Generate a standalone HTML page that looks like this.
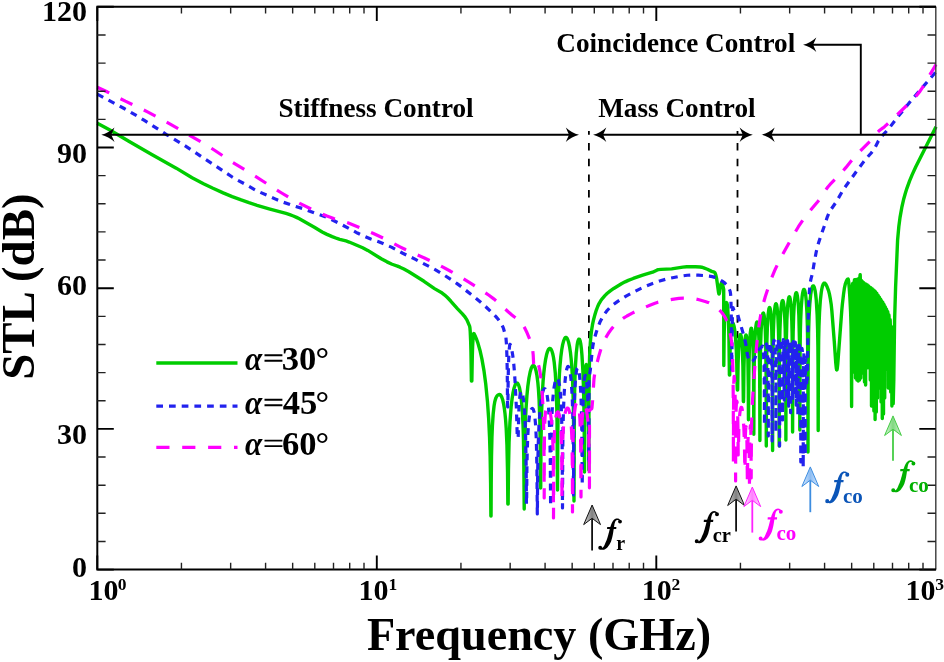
<!DOCTYPE html><html><head><meta charset="utf-8"><style>html,body{margin:0;padding:0;background:#fff;}svg{display:block;will-change:transform;}</style></head><body><svg width="944" height="662" viewBox="0 0 944 662">
<rect width="944" height="662" fill="#fff"/>
<defs><linearGradient id="gk" x1="0" y1="0" x2="1" y2="0"><stop offset="0" stop-color="#d4d4d4"/><stop offset="0.5" stop-color="#808080"/><stop offset="1" stop-color="#d4d4d4"/></linearGradient><linearGradient id="gm" x1="0" y1="0" x2="1" y2="0"><stop offset="0" stop-color="#ffdcff"/><stop offset="0.5" stop-color="#ff80ff"/><stop offset="1" stop-color="#ffdcff"/></linearGradient><linearGradient id="gb" x1="0" y1="0" x2="1" y2="0"><stop offset="0" stop-color="#d6e9ff"/><stop offset="0.5" stop-color="#8cbcf2"/><stop offset="1" stop-color="#d6e9ff"/></linearGradient><linearGradient id="gg" x1="0" y1="0" x2="1" y2="0"><stop offset="0" stop-color="#d8f5d8"/><stop offset="0.5" stop-color="#80d880"/><stop offset="1" stop-color="#d8f5d8"/></linearGradient></defs>
<path d="M588.9 130.9V452M737.5 130.9V372" stroke="#000" stroke-width="1.8" stroke-dasharray="7.4 8.25" stroke-dashoffset="3.45" fill="none"/>
<path d="M97.30 123.20L109.90 130.07 128.80 141.29 151.75 154.56 176.20 168.16 192.10 177.78 203.50 183.77 212.95 188.30 223.15 192.86 232.15 196.57 241.15 199.96 248.95 202.66 257.05 205.26 269.05 208.78 286.00 213.46 289.75 214.68 293.35 216.03 296.50 217.38 298.90 218.60 314.35 227.23 322.15 231.98 326.95 234.37 332.20 236.62 337.00 238.47 339.70 239.31 346.00 240.96 349.15 242.02 362.65 247.76 367.75 250.40 381.25 258.72 386.95 261.86 392.05 264.26 397.45 266.09 400.00 267.15 403.90 269.08 408.85 271.79 424.00 281.30 434.50 288.63 442.15 293.09 444.70 295.02 447.40 297.51 450.70 301.01 457.60 308.82 462.40 313.82 464.50 316.31 466.90 319.91 469.60 326.18 469.90 327.72 470.20 331.13 470.65 340.80 470.95 352.02 471.40 381.00 471.85 381.00 472.30 356.52 472.60 346.66 473.05 338.15 473.35 335.11 473.65 333.66 473.80 333.47 473.95 333.61 475.45 336.59 476.65 339.49 477.85 342.90 479.95 350.23 481.90 358.86 484.00 370.90 485.80 384.57 487.45 401.32 488.65 418.28 489.55 437.10 490.15 456.68 490.60 482.88 490.90 516.00 491.05 516.00 491.20 484.93 491.50 456.17 491.95 436.87 492.40 425.81 493.15 414.29 494.05 406.02 494.65 402.45 495.25 399.88 496.00 397.67 496.75 396.25 497.35 395.52 497.95 395.04 498.70 394.69 499.60 394.50 500.20 394.72 500.65 395.11 501.55 396.56 502.60 399.47 503.50 403.28 504.25 407.67 505.00 413.59 505.60 419.92 506.20 428.48 506.95 445.21 507.55 472.30 507.85 504.00 508.15 504.00 508.45 470.21 509.05 442.38 509.95 422.07 511.15 406.64 512.05 398.93 512.95 393.20 514.00 388.36 515.20 384.80 515.80 383.74 516.40 383.13 516.85 382.99 517.45 383.21 518.05 383.91 518.50 384.78 519.55 388.08 520.75 394.65 521.65 402.54 522.40 412.52 523.00 424.79 523.45 439.48 523.75 455.75 524.20 509.00 524.65 455.24 524.95 438.36 525.40 422.75 526.00 409.23 526.90 395.79 527.80 386.48 529.00 377.71 530.20 371.72 531.40 367.86 532.00 366.63 532.60 365.86 533.20 365.55 533.80 365.69 534.40 366.30 535.00 367.42 536.05 370.81 536.95 375.51 537.85 382.63 538.45 389.43 539.05 399.03 539.80 419.45 540.25 445.82 540.60 488.00 540.70 487.12 541.00 441.68 541.45 416.77 542.20 395.73 543.10 380.95 543.85 372.44 544.60 365.94 545.50 359.96 546.55 354.86 547.60 351.34 548.20 349.97 548.80 349.01 549.40 348.48 550.00 348.38 550.60 348.71 551.05 349.24 551.95 351.12 552.70 353.65 553.45 357.23 554.20 362.21 555.25 372.74 556.15 388.09 556.75 406.58 557.05 422.95 557.50 490.00 557.80 434.88 558.10 412.18 558.70 389.45 559.45 373.63 560.05 365.05 560.80 357.05 561.70 350.02 562.60 344.92 563.65 340.80 564.70 338.34 565.30 337.61 565.90 337.35 566.50 337.57 566.95 338.06 567.85 339.88 568.75 342.85 569.65 347.20 570.40 352.17 571.15 358.84 571.75 365.96 572.65 382.01 573.25 400.95 573.70 430.74 574.00 501.00 574.30 416.09 574.60 393.68 574.90 380.73 575.50 364.91 576.25 353.28 577.15 345.08 577.60 342.49 578.20 340.24 578.80 339.20 579.10 339.10 579.55 339.45 580.15 340.91 580.75 343.83 581.35 348.47 581.95 355.09 582.85 370.15 583.45 386.19 583.90 405.76 584.20 429.37 584.50 472.00 584.65 424.75 584.80 403.15 585.10 383.20 585.40 373.40 585.85 366.51 586.15 364.82 586.30 364.57 586.45 364.65 586.75 365.73 587.05 368.37 587.50 375.61 587.80 383.20 588.25 401.92 588.55 427.42 588.80 470.00 589.00 401.51 589.30 369.33 589.60 356.00 590.35 342.33 590.95 335.43 591.55 330.45 592.45 324.92 593.50 319.94 594.85 314.87 596.35 310.09 597.70 306.50 599.05 303.59 600.55 301.05 602.35 298.59 604.90 295.63 607.30 293.29 610.30 290.86 613.75 288.47 621.85 283.57 625.15 281.85 628.30 280.42 633.25 278.47 641.95 275.30 645.10 274.29 652.60 272.17 656.80 270.17 658.30 269.64 661.00 269.36 671.65 268.86 682.75 267.17 686.80 266.76 695.50 266.81 700.15 267.01 701.65 267.23 703.75 267.85 707.35 269.22 711.70 271.37 714.25 272.23 714.70 272.50 715.00 272.87 715.75 274.95 716.65 278.74 718.45 291.80 718.90 293.91 719.05 293.98 719.20 293.76 719.50 292.70 721.00 283.92 721.15 283.53 721.45 283.50 722.05 283.64 722.50 284.00 723.70 289.47 723.80 365.50 724.15 335.40 724.60 318.32 725.05 311.49 725.80 305.15 726.25 303.07 726.55 302.58 726.85 302.81 727.30 304.62 727.75 308.66 728.50 322.74 728.95 339.23 729.40 375.00 729.70 375.00 730.15 348.39 730.45 339.90 730.90 332.18 731.35 327.61 731.95 324.34 732.25 323.53 732.55 323.16 732.85 323.14 733.30 323.72 734.05 326.15 734.65 329.65 735.25 334.85 735.85 342.42 736.30 350.58 736.75 362.90 737.20 387.04 737.35 390.00 737.65 390.00 738.10 362.99 738.70 346.95 739.15 340.72 739.60 337.00 740.05 335.06 740.35 334.58 740.65 334.70 740.95 335.42 741.25 336.79 741.70 340.29 742.45 351.75 742.90 365.47 743.35 401.22 743.50 401.60 743.65 396.50 743.95 368.20 744.40 351.22 744.70 344.85 745.15 338.89 745.60 335.83 745.90 335.05 746.05 335.01 746.20 335.21 746.65 337.20 747.10 341.49 747.55 349.25 747.85 357.90 748.30 387.24 748.45 419.80 748.90 369.80 749.35 350.16 749.80 339.76 750.25 333.42 750.85 329.01 751.15 328.21 751.30 328.13 751.45 328.27 751.75 329.18 752.05 331.06 752.50 336.08 752.95 345.16 753.25 355.54 753.55 375.40 753.80 434.30 754.00 384.37 754.30 360.43 754.60 348.33 755.05 337.32 755.80 327.24 756.10 324.90 756.55 322.71 757.00 321.94 757.30 322.21 757.75 323.82 758.05 325.84 758.65 332.94 759.10 342.80 759.40 354.13 759.70 377.29 759.90 440.60 760.15 372.04 760.60 344.95 761.05 332.20 761.80 320.48 762.55 314.70 763.00 313.20 763.30 312.94 763.45 313.04 763.90 314.24 764.20 315.88 764.80 321.66 765.25 329.30 765.70 342.69 766.15 378.07 766.30 446.00 766.45 377.40 766.90 341.27 767.35 327.14 768.10 314.91 768.85 309.13 769.30 307.69 769.60 307.48 769.75 307.60 770.20 308.86 770.50 310.54 771.25 318.61 771.70 327.78 772.15 344.90 772.45 373.16 772.60 450.60 772.75 374.19 773.05 345.57 773.35 332.44 773.80 320.82 774.40 311.76 775.15 305.75 775.60 304.08 775.90 303.66 776.20 303.77 776.65 304.97 777.10 307.55 777.85 316.03 778.45 329.81 778.75 342.63 779.05 370.94 779.20 446.00 779.35 371.20 779.65 342.61 779.95 329.51 780.40 317.91 781.00 308.86 781.60 303.66 782.05 301.50 782.35 300.74 782.65 300.50 782.95 300.78 783.25 301.60 783.70 303.92 784.15 307.84 784.60 313.98 785.20 328.62 785.65 354.80 785.80 378.54 785.90 440.00 785.95 396.51 786.25 345.75 786.85 320.15 787.45 308.52 788.05 301.89 788.50 298.92 788.80 297.68 789.10 296.99 789.40 296.82 789.70 297.17 790.15 298.72 790.60 301.67 791.05 306.43 791.80 321.49 792.10 333.17 792.40 356.66 792.60 432.00 792.85 352.46 793.15 331.93 793.60 316.66 794.05 307.64 794.50 301.62 794.95 297.51 795.55 294.15 795.85 293.24 796.15 292.78 796.45 292.78 796.75 293.24 797.35 295.62 797.95 300.38 798.40 306.19 798.85 315.20 799.45 340.31 799.75 390.79 799.80 430.00 800.05 352.15 800.35 331.63 800.65 320.43 801.25 307.15 802.15 296.47 802.60 293.31 803.20 290.63 803.65 289.62 803.95 289.38 804.25 289.49 804.85 290.77 805.30 292.76 805.75 295.81 806.20 300.23 806.95 312.57 807.40 326.49 807.85 362.22 808.00 452.00 808.15 367.78 808.60 331.61 809.05 317.16 809.80 303.72 810.70 294.55 811.30 290.68 811.90 288.08 812.65 286.27 813.10 285.88 813.55 286.00 814.00 286.64 814.30 287.37 815.05 290.36 815.65 294.23 816.25 299.92 817.15 314.70 817.60 328.87 817.90 346.74 818.05 364.74 818.20 430.50 818.35 368.90 818.65 340.25 818.95 326.97 819.55 311.85 820.30 300.89 821.20 292.72 821.80 289.04 822.40 286.37 823.15 284.21 823.90 283.20 824.35 283.10 824.80 283.21 825.25 283.55 825.85 284.34 827.20 287.06 828.55 290.59 829.45 294.19 830.35 298.93 831.25 304.87 831.85 310.75 834.25 341.11 835.75 362.72 836.35 368.49 836.65 369.82 836.80 370.00 836.95 369.82 837.25 368.51 837.70 364.56 841.75 310.82 842.35 304.37 843.55 294.12 844.45 287.82 845.35 283.86 846.40 281.07 847.15 279.64 847.60 279.15 848.05 279.01 848.35 279.75 848.65 281.65 849.10 286.23 849.85 297.19 850.60 311.73 851.05 326.04 851.35 345.55 851.60 406.60 851.80 317.46 852.10 294.66 852.40 285.69 852.55 283.86 852.70 283.53 852.85 284.73 853.15 292.98 853.30 301.94 853.60 372.00 853.90 299.77 854.35 281.27 854.50 279.73 854.65 279.83 854.95 285.38 855.25 302.81 855.40 326.02 855.50 378.00 855.70 300.78 856.00 281.82 856.15 279.33 856.30 279.90 856.60 291.72 856.75 308.37 856.90 380.00 857.05 306.69 857.35 283.00 857.50 280.09 857.65 280.72 857.95 294.73 858.10 317.23 858.20 381.00 858.40 299.49 858.70 280.43 858.85 278.17 859.00 279.37 859.30 296.48 859.50 380.00 859.60 312.77 859.75 289.83 859.90 279.86 860.05 275.34 860.20 274.69 860.50 285.91 860.65 302.98 860.80 378.00 860.95 302.90 861.25 281.80 861.40 280.46 861.55 282.98 861.85 306.30 862.00 372.00 862.15 306.53 862.45 283.74 862.60 281.76 862.75 283.90 863.05 307.07 863.20 373.00 863.35 309.26 863.50 293.06 863.80 282.75 863.95 283.43 864.10 287.84 864.40 320.24 864.50 382.00 864.70 299.21 864.85 287.79 865.00 283.65 865.15 284.57 865.45 306.59 865.60 385.00 865.75 308.93 866.05 286.17 866.20 284.22 866.35 286.38 866.65 309.56 866.80 368.00 866.95 309.77 867.25 287.02 867.40 285.06 867.55 287.23 867.70 294.31 867.85 310.42 868.00 367.00 868.15 310.64 868.30 294.75 868.45 287.89 868.60 285.94 868.75 288.11 869.05 311.29 869.20 368.00 869.35 309.36 869.50 293.87 869.65 287.76 869.80 287.05 870.10 303.02 870.30 380.00 870.40 322.43 870.55 300.25 870.70 291.17 870.85 287.75 871.00 288.54 871.30 305.92 871.45 341.02 871.50 406.00 871.60 323.30 871.75 301.12 871.90 292.05 872.05 288.64 872.20 289.43 872.50 306.83 872.70 395.00 872.80 324.22 873.10 293.00 873.25 289.60 873.40 290.41 873.70 307.83 873.85 342.96 873.90 411.00 874.00 325.25 874.30 294.06 874.45 290.68 874.60 291.50 874.90 308.96 875.05 344.11 875.10 419.60 875.20 326.43 875.35 304.31 875.65 291.94 875.80 292.80 875.95 298.11 876.10 310.33 876.25 345.52 876.30 412.00 876.40 327.88 876.55 305.79 876.85 293.50 877.00 294.39 877.15 299.73 877.30 311.98 877.50 398.00 877.60 331.62 877.75 309.31 878.05 295.80 878.20 295.45 878.35 298.65 878.50 306.42 878.80 376.00 878.95 321.43 879.10 305.66 879.25 298.93 879.40 297.09 879.55 299.38 879.85 322.80 880.00 388.00 880.15 321.11 880.45 299.75 880.60 299.16 880.75 303.62 881.05 350.37 881.10 402.00 881.20 335.00 881.35 312.94 881.50 303.98 881.65 300.68 881.80 301.59 882.10 319.20 882.30 418.60 882.40 336.82 882.55 314.77 882.85 302.53 883.00 303.45 883.15 308.82 883.30 321.09 883.50 414.00 883.60 338.75 883.75 316.71 884.05 304.51 884.20 305.45 884.35 310.85 884.50 323.14 884.70 398.00 884.80 340.85 884.95 318.84 885.25 306.69 885.40 307.65 885.55 313.05 885.70 325.36 885.90 370.00 886.15 321.07 886.30 312.17 886.45 308.94 886.60 309.91 886.75 315.34 887.10 366.00 887.35 323.51 887.50 314.66 887.65 311.49 887.80 312.53 888.10 330.44 888.30 388.00 888.55 326.55 888.85 314.75 889.00 315.90 889.15 321.53 889.30 334.09 889.50 378.00 889.75 330.73 890.05 319.37 890.20 320.78 890.35 326.68 890.50 339.52 890.70 392.00 890.95 337.08 891.10 328.88 891.25 326.39 891.40 328.15 891.70 347.76 891.90 406.00 892.15 345.64 892.30 339.00 892.45 338.58 892.75 353.98 892.90 378.26 893.00 346.81 893.20 403.64 893.80 380.00 894.60 320.00 895.60 287.17 897.60 240.00 898.80 226.81 900.00 217.62 901.80 207.47 903.80 198.71 905.20 193.70 906.80 188.59 909.60 180.81 912.20 174.61 915.80 166.74 936.00 126.80" stroke="#00cc00" stroke-width="3.4" fill="none" stroke-linejoin="round"/>
<path d="M97.30 94.20L123.25 107.99 130.45 112.03 137.20 116.02 144.40 120.47 166.45 134.54 181.30 143.46 187.45 147.31 194.80 152.14 203.80 158.34 214.30 164.97 223.75 171.43 232.60 177.26 236.50 179.58 245.65 184.47 255.25 189.97 259.15 191.84 267.40 195.40 276.10 199.34 282.10 201.80 291.40 205.10 303.55 208.82 314.20 212.92 323.80 216.18 328.15 217.90 342.25 224.90 349.15 228.50 357.40 233.04 362.65 235.59 370.75 239.06 378.70 241.83 383.05 243.51 391.90 247.39 402.25 252.97 415.00 259.15 435.55 269.87 441.10 273.16 451.90 280.11 456.70 283.36 461.20 286.67 475.30 297.76 480.40 301.93 484.75 305.77 492.85 313.47 495.70 316.36 497.95 319.02 500.05 321.96 502.00 325.20 502.90 326.90 503.50 328.50 505.90 337.12 506.50 344.60 506.95 356.97 507.25 371.93 507.55 405.32 507.70 407.00 507.85 407.00 508.15 380.33 508.45 365.94 508.75 357.20 509.20 349.34 509.65 345.36 509.80 344.71 509.95 344.35 510.10 344.29 510.55 345.20 511.00 346.55 511.90 350.38 512.80 355.86 513.70 363.30 514.30 370.15 515.05 381.13 516.40 407.97 517.30 438.00 518.05 438.00 518.20 436.76 518.80 411.88 519.40 401.00 520.00 395.22 520.60 392.31 520.90 391.60 521.35 391.26 521.80 391.66 522.25 392.71 523.00 396.10 523.75 401.82 524.50 410.67 525.10 421.37 525.55 433.34 526.15 464.32 526.45 504.00 526.60 504.00 526.90 468.23 527.20 451.96 527.65 438.16 528.40 425.44 528.85 420.68 529.45 416.20 530.20 412.51 530.95 410.17 531.40 409.25 531.85 408.67 532.30 408.46 532.60 408.54 533.05 409.01 533.35 409.59 534.10 412.17 534.85 416.91 535.45 423.12 535.90 430.08 536.35 440.57 536.95 469.58 537.30 514.00 537.40 513.25 537.55 485.17 537.85 460.78 538.30 442.06 538.90 427.20 539.80 413.15 541.00 401.40 541.60 397.30 542.35 393.42 542.95 391.19 543.70 389.41 544.00 389.00 544.45 388.71 544.90 388.78 545.20 389.05 545.95 390.49 546.70 393.19 547.30 396.45 547.90 400.99 548.50 407.29 548.95 413.77 549.55 426.56 550.00 443.00 550.30 463.74 550.60 506.00 550.90 459.88 551.20 438.66 551.80 417.52 552.70 400.92 553.30 393.90 554.05 387.62 554.95 382.59 555.85 379.59 556.30 378.74 556.90 378.24 557.35 378.32 557.80 378.81 558.25 379.75 558.70 381.20 559.45 384.99 560.20 391.14 560.80 398.72 561.25 407.06 561.70 419.81 562.15 444.30 562.50 508.00 562.75 451.49 563.05 427.29 563.50 408.91 564.10 394.61 565.00 381.63 565.60 375.94 566.20 371.81 566.80 368.95 567.40 367.19 567.70 366.70 568.15 366.44 568.45 366.59 568.90 367.30 569.65 369.72 570.25 372.92 571.30 382.24 572.20 396.86 572.80 415.16 573.10 432.03 573.50 495.00 573.70 445.92 574.00 418.20 574.30 404.19 574.75 391.33 575.50 378.99 576.25 372.23 576.70 369.85 577.15 368.46 577.60 367.95 577.90 368.06 578.20 368.52 578.80 370.56 579.25 373.19 580.15 382.01 580.90 394.97 581.50 413.63 581.80 430.73 582.25 485.00 582.40 444.81 582.70 417.44 583.30 395.02 583.75 386.30 584.20 380.75 584.50 378.28 584.95 376.01 585.25 375.34 585.40 375.25 585.55 375.34 585.85 376.03 586.30 378.32 586.60 380.70 587.35 390.09 587.95 402.89 588.40 419.38 588.85 460.53 589.00 378.75 590.35 369.78 592.30 350.19 592.75 346.63 593.35 343.30 594.55 338.04 596.35 331.94 598.30 326.18 600.25 321.42 602.35 317.45 604.75 313.67 607.15 310.52 609.85 307.63 612.85 305.00 617.05 301.90 621.85 298.73 626.95 295.70 633.25 292.29 641.05 288.38 646.75 285.78 652.00 283.68 659.65 281.03 665.65 279.25 669.85 278.25 680.05 276.26 687.25 275.25 690.40 275.04 693.55 275.01 698.20 275.16 703.00 275.49 709.30 276.15 712.30 276.63 714.85 277.39 717.40 278.46 720.25 279.97 723.40 281.93 724.90 283.07 726.25 284.40 727.45 285.95 728.50 287.66 729.55 289.76 730.15 291.29 730.60 294.02 730.90 298.86 731.35 318.06 731.80 370.00 732.25 322.75 732.55 311.65 732.85 307.68 733.00 307.57 733.60 309.21 734.20 310.31 734.80 311.02 736.75 312.76 737.35 313.68 737.80 314.84 739.45 320.83 743.50 334.48 744.85 339.60 745.75 343.84 747.25 353.69 747.85 356.54 749.05 359.57 750.10 361.42 750.85 361.98 751.60 361.88 752.50 361.32 753.55 360.23 754.60 358.85 754.90 358.23 756.55 353.00 757.15 351.76 758.65 349.91 762.25 346.33 762.55 346.07 762.70 346.17 763.15 348.22 763.45 351.37 764.05 365.71 764.35 386.66 764.50 425.00 764.65 385.53 764.95 364.33 765.25 355.04 765.70 347.74 766.15 344.53 766.30 344.13 766.45 344.03 766.60 344.23 767.05 346.79 767.35 350.51 767.65 356.73 767.95 368.05 768.25 405.71 768.30 436.00 768.40 392.13 768.70 365.27 769.00 354.96 769.30 349.04 769.75 344.22 770.05 342.84 770.20 342.60 770.35 342.67 770.80 344.77 771.10 348.08 771.40 353.69 771.70 363.69 772.00 390.26 772.10 441.00 772.30 376.60 772.60 358.97 773.05 347.66 773.65 341.39 773.95 340.42 774.10 340.40 774.25 340.69 774.55 342.24 774.85 345.33 775.30 354.42 775.75 380.63 775.90 432.00 776.05 380.02 776.35 358.89 776.95 344.36 777.40 340.22 777.55 339.59 777.70 339.29 777.85 339.31 778.30 341.37 778.75 347.19 779.05 354.65 779.35 369.46 779.50 387.24 779.60 446.00 779.80 369.70 780.25 348.06 780.55 342.46 780.85 339.73 781.00 339.18 781.15 339.12 781.30 339.55 781.60 341.98 781.90 347.09 782.20 356.88 782.50 383.51 782.60 420.00 782.80 358.22 783.10 343.14 783.40 339.61 783.70 343.30 784.00 358.54 784.20 400.11 784.45 360.40 784.90 343.34 785.20 340.23 785.35 340.12 785.50 340.92 785.95 350.30 786.25 370.93 786.40 399.75 786.55 370.44 786.85 350.51 787.30 341.36 787.45 340.57 787.60 340.66 787.75 341.65 788.05 346.78 788.35 359.30 788.63 406.23 788.95 355.05 789.40 342.15 789.55 341.05 789.70 341.07 789.85 342.22 790.15 348.66 790.45 366.92 790.62 412.62 790.90 357.11 791.05 349.69 791.35 342.64 791.50 341.42 791.65 341.42 791.80 342.63 792.25 356.92 792.54 401.83 792.70 364.48 792.85 352.70 793.15 343.16 793.30 341.70 793.45 341.89 793.60 343.74 793.90 354.57 794.19 396.86 794.35 369.36 794.65 350.54 794.80 346.36 795.10 342.42 795.25 342.10 795.40 342.79 795.55 344.55 796.00 360.18 796.28 405.15 796.45 364.47 796.60 353.32 796.90 344.40 797.05 343.23 797.20 343.74 797.50 350.45 797.65 358.44 797.90 415.24 798.25 363.79 798.70 350.01 799.00 346.42 799.30 345.30 799.60 346.30 799.75 347.62 800.05 352.29 800.50 368.84 800.65 382.30 800.80 462.00 800.95 379.02 801.10 366.03 801.40 354.42 801.70 349.60 801.85 348.64 802.00 348.48 802.30 350.47 802.60 356.18 802.90 368.68 803.05 382.11 803.20 467.00 803.35 379.14 803.65 359.72 803.95 353.44 804.10 352.45 804.25 352.56 804.55 356.19 805.00 376.95 805.15 404.10 805.20 455.00 805.30 386.69 805.60 362.43 805.90 357.18 806.05 357.57 806.20 359.78 806.50 371.49 806.65 386.67 806.80 367.09 807.10 377.12 807.25 379.79 807.40 378.19 808.15 319.98 808.75 302.82 809.35 291.42 809.80 286.05 810.40 281.83 811.00 278.95 812.50 273.02 814.30 262.16 816.25 251.78 818.05 244.46 820.90 235.60 824.65 225.07 827.35 216.86 828.85 213.28 831.25 209.09 836.50 201.49 842.05 191.78 845.35 186.76 856.45 171.41 863.35 162.15 866.20 158.55 871.00 153.21 873.25 150.38 874.90 147.76 878.35 141.00 880.60 137.76 882.55 135.45 888.85 128.56 899.35 114.95 911.95 99.55 936.00 71.80" stroke="#2222ee" stroke-width="3.2" fill="none" stroke-dasharray="6.7 6" stroke-linejoin="round"/>
<path d="M97.30 87.20L106.45 91.55 125.35 101.17 141.40 108.83 148.00 112.11 160.90 118.97 177.70 128.36 200.20 141.43 208.45 146.37 214.90 150.48 232.15 162.08 252.40 174.35 269.50 185.37 281.65 193.02 290.80 198.54 299.80 203.43 311.50 209.21 326.95 216.08 333.70 218.57 341.35 220.59 347.80 222.79 363.70 229.31 373.45 233.55 385.15 239.05 400.00 246.84 405.40 249.55 424.45 258.06 431.95 261.62 441.55 266.45 450.55 271.27 459.40 276.34 468.85 282.10 481.00 289.86 488.95 295.28 493.75 298.84 496.90 301.41 508.15 311.71 511.90 314.97 514.15 316.73 517.90 319.20 519.55 320.56 520.75 321.83 521.95 323.39 524.35 327.30 527.05 332.80 529.90 339.60 531.10 343.22 532.60 348.83 533.20 354.86 533.65 363.90 533.80 365.00 535.60 365.00 536.20 361.06 536.50 360.44 536.65 360.42 536.80 360.58 538.00 363.50 538.90 366.45 539.65 369.83 540.40 374.49 541.30 382.40 542.20 393.24 542.95 405.78 543.40 416.75 543.70 427.66 544.00 447.42 544.20 498.00 544.30 453.97 544.45 437.07 544.75 423.73 545.20 415.17 545.65 410.95 546.10 408.48 546.70 406.34 547.00 405.72 547.45 405.35 547.75 405.40 548.20 405.86 548.95 407.49 549.85 410.74 550.60 414.57 551.50 421.03 552.10 427.37 552.55 434.55 553.00 446.84 553.30 464.67 553.50 518.00 553.75 458.55 554.20 438.61 554.65 429.26 555.25 421.82 556.15 415.51 556.60 413.67 557.05 412.48 557.35 412.01 557.65 411.79 557.95 411.80 558.25 412.06 558.85 413.33 559.30 415.03 560.20 420.92 560.95 430.23 561.40 440.63 561.70 453.90 562.00 500.00 562.15 471.30 562.45 449.70 563.05 433.05 563.80 422.69 564.40 417.48 565.15 413.07 565.90 410.24 566.35 409.12 566.80 408.39 567.25 408.01 567.70 408.00 568.15 408.34 568.60 409.06 569.35 411.21 570.10 414.89 570.70 419.45 571.30 426.53 571.75 435.22 572.05 444.94 572.35 466.20 572.50 512.00 572.65 461.91 572.95 440.35 573.25 430.36 573.85 419.09 574.45 412.46 575.20 407.27 575.80 404.63 576.55 402.77 577.00 402.39 577.30 402.44 577.90 403.38 578.50 405.61 578.95 408.37 579.40 412.42 579.85 418.35 580.45 432.42 580.75 447.81 581.00 497.00 581.20 452.32 581.35 441.48 581.65 429.65 582.10 419.95 582.55 414.03 583.00 410.05 583.45 407.31 584.05 405.03 584.50 404.33 584.80 404.36 585.10 404.73 585.70 406.38 586.45 409.91 587.20 414.95 587.80 420.34 588.25 425.79 588.70 434.06 589.15 449.91 589.45 487.82 589.50 409.81 590.65 409.40 591.70 408.80 592.00 407.60 592.60 400.62 593.95 379.30 594.70 373.70 595.90 367.36 598.60 356.88 600.40 350.73 602.35 345.33 604.75 339.79 606.70 336.05 608.95 332.46 611.35 329.13 613.90 326.13 616.60 323.49 619.75 320.84 623.05 318.45 626.95 316.00 631.75 313.36 637.30 310.67 649.90 305.19 655.00 303.16 658.00 302.17 660.85 301.44 668.20 300.01 673.90 299.07 678.85 298.44 683.50 298.08 687.55 298.01 691.00 298.23 694.90 298.81 699.10 299.75 705.10 301.47 708.85 302.77 711.70 304.22 714.55 306.06 717.85 308.64 720.40 311.02 722.35 313.28 724.15 315.87 725.95 319.06 727.45 322.30 728.35 324.99 729.10 327.89 730.75 336.44 731.95 344.75 732.40 352.41 732.85 367.61 733.15 386.57 733.30 406.51 733.40 462.00 733.60 391.49 733.75 383.18 734.05 376.96 734.20 376.35 734.35 376.92 734.65 381.00 735.10 395.00 735.40 415.36 735.60 481.00 735.70 435.42 735.85 419.30 736.15 407.58 736.45 402.86 736.75 401.12 736.90 401.23 737.05 401.95 737.20 403.31 737.65 412.40 737.95 427.18 738.20 455.00 738.40 450.75 738.85 428.60 739.45 417.36 739.90 412.71 740.50 409.05 741.10 407.43 741.40 407.29 741.55 407.38 741.85 407.90 742.45 410.54 742.90 414.22 743.80 426.86 744.40 442.52 744.85 470.00 745.00 470.00 745.45 433.84 745.75 427.83 745.90 426.75 746.05 426.58 746.20 427.20 746.65 433.71 746.95 443.32 747.40 484.00 747.85 444.16 748.15 436.99 748.30 435.29 748.45 434.56 748.60 434.72 748.90 438.14 749.20 448.47 749.50 489.00 749.65 455.29 749.80 441.69 750.10 429.59 750.25 426.87 750.40 425.70 750.55 426.04 750.85 432.08 751.00 440.52 751.20 478.00 751.45 433.80 751.75 416.14 752.05 406.95 754.00 377.55 755.05 363.65 756.40 347.88 757.60 336.71 758.95 325.96 760.15 317.99 761.50 311.00 763.00 304.66 765.25 296.78 768.85 285.64 771.85 277.46 775.15 269.47 778.30 262.71 782.20 255.23 793.00 235.75 798.55 226.46 802.00 221.35 806.20 215.70 812.35 207.94 817.45 201.95 819.55 199.30 821.50 196.49 825.70 189.96 827.65 187.24 830.05 184.46 835.00 179.42 843.25 170.60 845.80 167.65 851.35 160.84 856.00 155.63 862.15 149.14 870.40 140.86 875.95 134.14 877.90 131.95 879.70 130.29 883.00 127.89 884.80 126.42 890.50 121.30 911.05 101.29 916.15 95.92 919.90 91.37 922.60 87.44 925.15 83.19 931.00 72.85 936.00 64.50" stroke="#ff00ff" stroke-width="3.2" fill="none" stroke-dasharray="13.2 12.7" stroke-linejoin="round"/>
<path d="M935.80 6.80V569.60" stroke="#3a3a3a" stroke-width="1.4" fill="none"/>
<path d="M936.10 6.80H97.30V569.60H936.10" fill="none" stroke="#000" stroke-width="2"/>
<path d="M97.30 569.60V555.50M97.30 6.80V20.90M376.80 569.60V555.50M376.80 6.80V20.90M656.30 569.60V555.50M656.30 6.80V20.90M97.30 569.60H113.80M935.80 569.60H919.30M97.30 428.90H113.80M935.80 428.90H919.30M97.30 288.20H113.80M935.80 288.20H919.30M97.30 147.50H113.80M935.80 147.50H919.30M97.30 6.80H113.80M935.80 6.80H919.30" stroke="#000" stroke-width="1.9" fill="none"/>
<path d="M181.44 569.60V562.80M181.44 6.80V13.60M230.66 569.60V562.80M230.66 6.80V13.60M265.58 569.60V562.80M265.58 6.80V13.60M292.66 569.60V562.80M292.66 6.80V13.60M314.79 569.60V562.80M314.79 6.80V13.60M333.50 569.60V562.80M333.50 6.80V13.60M349.71 569.60V562.80M349.71 6.80V13.60M364.01 569.60V562.80M364.01 6.80V13.60M460.94 569.60V562.80M460.94 6.80V13.60M510.16 569.60V562.80M510.16 6.80V13.60M545.08 569.60V562.80M545.08 6.80V13.60M572.16 569.60V562.80M572.16 6.80V13.60M594.29 569.60V562.80M594.29 6.80V13.60M613.00 569.60V562.80M613.00 6.80V13.60M629.21 569.60V562.80M629.21 6.80V13.60M643.51 569.60V562.80M643.51 6.80V13.60M740.44 569.60V562.80M740.44 6.80V13.60M789.66 569.60V562.80M789.66 6.80V13.60M824.58 569.60V562.80M824.58 6.80V13.60M851.66 569.60V562.80M851.66 6.80V13.60M873.79 569.60V562.80M873.79 6.80V13.60M892.50 569.60V562.80M892.50 6.80V13.60M908.71 569.60V562.80M908.71 6.80V13.60M923.01 569.60V562.80M923.01 6.80V13.60M97.30 541.46H105.60M935.80 541.46H927.50M97.30 513.32H105.60M935.80 513.32H927.50M97.30 485.18H105.60M935.80 485.18H927.50M97.30 457.04H105.60M935.80 457.04H927.50M97.30 400.76H105.60M935.80 400.76H927.50M97.30 372.62H105.60M935.80 372.62H927.50M97.30 344.48H105.60M935.80 344.48H927.50M97.30 316.34H105.60M935.80 316.34H927.50M97.30 260.06H105.60M935.80 260.06H927.50M97.30 231.92H105.60M935.80 231.92H927.50M97.30 203.78H105.60M935.80 203.78H927.50M97.30 175.64H105.60M935.80 175.64H927.50M97.30 119.36H105.60M935.80 119.36H927.50M97.30 91.22H105.60M935.80 91.22H927.50M97.30 63.08H105.60M935.80 63.08H927.50M97.30 34.94H105.60M935.80 34.94H927.50" stroke="#222" stroke-width="1.4" fill="none"/>
<text x="41.90" y="20.70" style="font-family:&quot;Liberation Serif&quot;,serif;font-weight:bold;font-size:30px" fill="#000">120</text>
<text x="56.90" y="162.50" style="font-family:&quot;Liberation Serif&quot;,serif;font-weight:bold;font-size:30px" fill="#000">90</text>
<text x="56.90" y="295.00" style="font-family:&quot;Liberation Serif&quot;,serif;font-weight:bold;font-size:30px" fill="#000">60</text>
<text x="56.90" y="443.50" style="font-family:&quot;Liberation Serif&quot;,serif;font-weight:bold;font-size:30px" fill="#000">30</text>
<text x="71.90" y="576.60" style="font-family:&quot;Liberation Serif&quot;,serif;font-weight:bold;font-size:30px" fill="#000">0</text>
<text x="88.40" y="599.60" style="font-family:&quot;Liberation Serif&quot;,serif;font-weight:bold;font-size:30px" fill="#000" >10</text>
<text x="117.80" y="590.40" style="font-family:&quot;Liberation Serif&quot;,serif;font-weight:bold;font-size:17.5px" fill="#000" >0</text>
<text x="358.40" y="599.60" style="font-family:&quot;Liberation Serif&quot;,serif;font-weight:bold;font-size:30px" fill="#000" >10</text>
<text x="388.60" y="590.40" style="font-family:&quot;Liberation Serif&quot;,serif;font-weight:bold;font-size:17.5px" fill="#000" >1</text>
<text x="641.80" y="599.60" style="font-family:&quot;Liberation Serif&quot;,serif;font-weight:bold;font-size:30px" fill="#000" >10</text>
<text x="671.40" y="590.40" style="font-family:&quot;Liberation Serif&quot;,serif;font-weight:bold;font-size:17.5px" fill="#000" >2</text>
<text x="905.60" y="599.60" style="font-family:&quot;Liberation Serif&quot;,serif;font-weight:bold;font-size:30px" fill="#000" >10</text>
<text x="935.20" y="590.40" style="font-family:&quot;Liberation Serif&quot;,serif;font-weight:bold;font-size:17.5px" fill="#000" >3</text>
<text x="366.91" y="650.30" style="font-family:&quot;Liberation Serif&quot;,serif;font-weight:bold;font-size:46.2px" fill="#000" >Frequency (GHz)</text>
<text transform="translate(33.6 379.78) rotate(-90)" x="0" y="0" style="font-family:&quot;Liberation Serif&quot;,serif;font-weight:bold;font-size:46.9px" fill="#000">STL (dB)</text>
<text x="556.34" y="51.60" style="font-family:&quot;Liberation Serif&quot;,serif;font-weight:bold;font-size:27.2px" fill="#000" >Coincidence Control</text>
<text x="278.50" y="116.80" style="font-family:&quot;Liberation Serif&quot;,serif;font-weight:bold;font-size:27.2px" fill="#000" >Stiffness Control</text>
<text x="598.19" y="116.80" style="font-family:&quot;Liberation Serif&quot;,serif;font-weight:bold;font-size:27.2px" fill="#000" >Mass Control</text>
<path d="M107.30 134.7H573.00M599.10 134.7H746.80M767.50 134.7H935.80M860.8 134.7V44.8H809.10" stroke="#000" stroke-width="1.9" fill="none"/>
<path d="M101.30 134.70Q108.56 132.88 114.50 127.40L111.30 134.70L114.50 142.00Q108.56 136.52 101.30 134.70Z" fill="#000"/>
<path d="M579.00 134.70Q571.74 132.88 565.80 127.40L569.00 134.70L565.80 142.00Q571.74 136.52 579.00 134.70Z" fill="#000"/>
<path d="M593.10 134.70Q600.36 132.88 606.30 127.40L603.10 134.70L606.30 142.00Q600.36 136.52 593.10 134.70Z" fill="#000"/>
<path d="M752.80 134.70Q745.54 132.88 739.60 127.40L742.80 134.70L739.60 142.00Q745.54 136.52 752.80 134.70Z" fill="#000"/>
<path d="M761.50 134.70Q768.76 132.88 774.70 127.40L771.50 134.70L774.70 142.00Q768.76 136.52 761.50 134.70Z" fill="#000"/>
<path d="M803.10 44.80Q810.36 42.97 816.30 37.50L813.10 44.80L816.30 52.10Q810.36 46.62 803.10 44.80Z" fill="#000"/>
<path d="M156.3 363H237.5" stroke="#00cc00" stroke-width="3.4" fill="none"/>
<path d="M156.3 406.1H237.5" stroke="#2222ee" stroke-width="3.2" stroke-dasharray="6.7 6" fill="none"/>
<path d="M156.3 447.4H237.5" stroke="#ff00ff" stroke-width="3.2" stroke-dasharray="13.2 12.7" fill="none"/>
<text x="245.08" y="369.50" style="font-family:&quot;Liberation Serif&quot;,serif;font-weight:bold;font-style:italic;font-size:34.5px" fill="#000" textLength="17.2" lengthAdjust="spacingAndGlyphs">α</text>
<path d="M264.5 355.30H282.4M264.5 360.80H282.4" stroke="#000" stroke-width="1.9" fill="none"/>
<text x="281.82" y="369.50" style="font-family:&quot;Liberation Serif&quot;,serif;font-weight:bold;font-size:34.6px" fill="#000" >30</text>
<text x="315.60" y="369.50" style="font-family:&quot;Liberation Serif&quot;,serif;font-weight:bold;font-size:34px" fill="#000" >°</text>
<text x="245.08" y="413.90" style="font-family:&quot;Liberation Serif&quot;,serif;font-weight:bold;font-style:italic;font-size:34.5px" fill="#000" textLength="17.2" lengthAdjust="spacingAndGlyphs">α</text>
<path d="M264.5 399.70H282.4M264.5 405.20H282.4" stroke="#000" stroke-width="1.9" fill="none"/>
<text x="282.68" y="413.90" style="font-family:&quot;Liberation Serif&quot;,serif;font-weight:bold;font-size:34.6px" fill="#000" >45</text>
<text x="315.60" y="413.90" style="font-family:&quot;Liberation Serif&quot;,serif;font-weight:bold;font-size:34px" fill="#000" >°</text>
<text x="245.08" y="454.80" style="font-family:&quot;Liberation Serif&quot;,serif;font-weight:bold;font-style:italic;font-size:34.5px" fill="#000" textLength="17.2" lengthAdjust="spacingAndGlyphs">α</text>
<path d="M264.5 440.60H282.4M264.5 446.10H282.4" stroke="#000" stroke-width="1.9" fill="none"/>
<text x="281.99" y="454.80" style="font-family:&quot;Liberation Serif&quot;,serif;font-weight:bold;font-size:34.6px" fill="#000" >60</text>
<text x="315.60" y="454.80" style="font-family:&quot;Liberation Serif&quot;,serif;font-weight:bold;font-size:34px" fill="#000" >°</text>
<path d="M592.10 518.30V550.50" stroke="#111" stroke-width="1.8" fill="none"/><path d="M592.10 505.00L600.50 524.60L592.10 518.30L583.70 524.60Z" fill="url(#gk)" stroke="#111" stroke-width="1" stroke-linejoin="miter"/>
<path d="M736.10 499.20V531.40" stroke="#111" stroke-width="1.8" fill="none"/><path d="M736.10 485.90L744.50 505.50L736.10 499.20L727.70 505.50Z" fill="url(#gk)" stroke="#111" stroke-width="1" stroke-linejoin="miter"/>
<path d="M752.30 500.30V532.60" stroke="#ff22ff" stroke-width="1.8" fill="none"/><path d="M752.30 487.00L760.70 506.60L752.30 500.30L743.90 506.60Z" fill="url(#gm)" stroke="#ff22ff" stroke-width="1" stroke-linejoin="miter"/>
<path d="M810.30 480.20V512.20" stroke="#3d8de0" stroke-width="1.8" fill="none"/><path d="M810.30 466.90L818.70 486.50L810.30 480.20L801.90 486.50Z" fill="url(#gb)" stroke="#3d8de0" stroke-width="1" stroke-linejoin="miter"/>
<path d="M893.00 429.20V460.70" stroke="#44cc44" stroke-width="1.8" fill="none"/><path d="M893.00 415.90L901.40 435.50L893.00 429.20L884.60 435.50Z" fill="url(#gg)" stroke="#44cc44" stroke-width="1" stroke-linejoin="miter"/>
<path d="M620.57 521.09L620.47 520.89L620.38 520.67L620.28 520.44L620.17 520.18L620.04 519.92L619.88 519.65L619.68 519.38L619.42 519.14L619.15 518.95L618.86 518.79L618.56 518.66L618.25 518.55L617.92 518.47L617.58 518.42L617.24 518.40L616.90 518.41L616.56 518.44L616.23 518.51L615.89 518.60L615.56 518.73L615.23 518.88L614.92 519.05L614.61 519.25L614.31 519.47L614.02 519.72L613.75 519.99L613.49 520.27L613.26 520.57L613.03 520.88L612.82 521.20L612.62 521.53L612.42 521.86L612.21 522.21L612.02 522.58L611.84 522.96L611.67 523.34L611.50 523.73L611.33 524.13L611.17 524.54L611.01 524.97L610.85 525.41L610.70 525.86L610.55 526.32L610.41 526.79L610.26 527.27L610.11 527.78L609.96 528.31L609.79 528.89L609.63 529.53L609.46 530.21L609.28 530.92L609.10 531.65L608.92 532.39L608.74 533.11L608.55 533.81L608.36 534.48L608.18 535.15L607.99 535.84L607.80 536.53L607.60 537.20L607.40 537.85L607.21 538.46L607.02 539.03L606.83 539.53L606.68 539.97L606.54 540.36L606.40 540.71L606.25 541.04L606.10 541.37L605.93 541.71L605.75 542.08L605.55 542.48L605.38 542.91L605.22 543.33L605.05 543.75L604.89 544.16L604.72 544.55L604.56 544.90L604.42 545.22L604.27 545.50L604.13 545.77L603.98 546.04L603.83 546.28L603.68 546.51L603.52 546.73L603.37 546.92L603.22 547.10L603.08 547.26L602.94 547.38L602.80 547.49L602.65 547.59L602.48 547.67L602.31 547.75L602.13 547.81L601.95 547.86L601.79 547.90L601.68 547.91L601.56 547.90L601.42 547.87L601.25 547.81L601.06 547.74L600.86 547.65L600.63 547.55L600.40 547.47L599.80 548.73L599.97 548.84L600.12 548.96L600.30 549.08L600.50 549.22L600.72 549.37L600.98 549.50L601.29 549.62L601.61 549.70L601.91 549.76L602.21 549.81L602.53 549.84L602.87 549.84L603.22 549.81L603.58 549.76L603.95 549.67L604.32 549.54L604.68 549.40L605.04 549.23L605.39 549.04L605.75 548.82L606.10 548.58L606.44 548.31L606.79 548.02L607.13 547.70L607.46 547.33L607.78 546.93L608.08 546.53L608.38 546.11L608.66 545.70L608.93 545.29L609.20 544.90L609.45 544.52L609.65 544.16L609.86 543.80L610.07 543.43L610.29 543.03L610.51 542.61L610.73 542.14L610.95 541.63L611.17 541.07L611.36 540.45L611.56 539.80L611.75 539.12L611.94 538.41L612.12 537.69L612.30 536.96L612.47 536.24L612.64 535.52L612.78 534.78L612.92 534.01L613.05 533.24L613.17 532.47L613.29 531.72L613.40 531.01L613.51 530.33L613.61 529.71L613.70 529.13L613.78 528.58L613.85 528.06L613.92 527.58L613.98 527.12L614.05 526.68L614.12 526.25L614.19 525.83L614.26 525.41L614.33 525.00L614.40 524.62L614.47 524.25L614.54 523.90L614.62 523.56L614.70 523.25L614.78 522.94L614.89 522.63L615.00 522.33L615.11 522.04L615.22 521.78L615.33 521.53L615.45 521.31L615.57 521.11L615.69 520.93L615.83 520.77L616.00 520.61L616.18 520.47L616.36 520.34L616.56 520.22L616.75 520.13L616.93 520.05L617.10 519.99L617.27 519.97L617.46 519.96L617.67 519.98L617.88 520.01L618.08 520.06L618.28 520.12L618.45 520.19L618.58 520.26L618.67 520.33L618.76 520.43L618.85 520.58L618.95 520.77L619.06 520.98L619.17 521.22L619.29 521.47L619.43 521.71Z" fill="#000"/><path d="M618.05 521.60a1.95 1.95 0 1 0 3.90 0a1.95 1.95 0 1 0 -3.90 0ZM598.25 547.80a1.95 1.95 0 1 0 3.90 0a1.95 1.95 0 1 0 -3.90 0Z" fill="#000"/><path d="M607.20 526.95L616.40 526.95L616.20 529.05L607.00 529.05Z" fill="#000"/><text x="616.30" y="549.50" style="font-family:&quot;Liberation Serif&quot;,serif;font-weight:bold;font-size:20px" fill="#000" >r</text>
<path d="M717.58 513.85L717.47 513.63L717.38 513.42L717.28 513.17L717.17 512.91L717.04 512.64L716.87 512.37L716.66 512.09L716.40 511.85L716.12 511.65L715.83 511.49L715.52 511.36L715.20 511.25L714.86 511.17L714.52 511.11L714.17 511.09L713.82 511.10L713.48 511.13L713.13 511.20L712.79 511.30L712.45 511.42L712.12 511.58L711.79 511.76L711.48 511.96L711.17 512.19L710.88 512.44L710.60 512.71L710.34 513.01L710.09 513.31L709.86 513.63L709.65 513.96L709.44 514.29L709.24 514.63L709.03 514.99L708.83 515.37L708.64 515.75L708.47 516.14L708.29 516.54L708.13 516.95L707.96 517.37L707.79 517.81L707.63 518.26L707.48 518.72L707.33 519.19L707.18 519.67L707.03 520.16L706.88 520.68L706.72 521.23L706.55 521.82L706.38 522.47L706.21 523.17L706.03 523.90L705.85 524.64L705.66 525.40L705.47 526.14L705.28 526.85L705.09 527.54L704.90 528.23L704.71 528.93L704.51 529.63L704.31 530.32L704.11 530.98L703.91 531.61L703.71 532.19L703.52 532.70L703.37 533.16L703.22 533.55L703.08 533.91L702.93 534.25L702.77 534.58L702.60 534.93L702.42 535.31L702.22 535.71L702.04 536.15L701.87 536.59L701.70 537.02L701.53 537.44L701.37 537.83L701.20 538.20L701.05 538.52L700.91 538.81L700.76 539.09L700.61 539.36L700.46 539.61L700.30 539.84L700.14 540.06L699.98 540.26L699.83 540.44L699.69 540.60L699.55 540.73L699.40 540.84L699.24 540.94L699.07 541.03L698.90 541.11L698.72 541.17L698.53 541.22L698.37 541.27L698.25 541.27L698.13 541.26L697.99 541.23L697.82 541.17L697.63 541.09L697.41 541.00L697.18 540.90L696.95 540.82L696.33 542.11L696.50 542.22L696.66 542.34L696.84 542.47L697.05 542.62L697.28 542.76L697.54 542.90L697.85 543.02L698.18 543.10L698.49 543.17L698.80 543.21L699.13 543.24L699.47 543.24L699.83 543.22L700.20 543.16L700.58 543.07L700.95 542.94L701.33 542.80L701.69 542.63L702.05 542.43L702.41 542.21L702.77 541.96L703.13 541.68L703.48 541.38L703.83 541.05L704.16 540.68L704.49 540.27L704.80 539.86L705.10 539.43L705.39 539.01L705.67 538.59L705.94 538.19L706.20 537.81L706.41 537.44L706.62 537.07L706.84 536.69L707.06 536.28L707.28 535.85L707.51 535.37L707.73 534.85L707.96 534.27L708.16 533.64L708.36 532.98L708.55 532.28L708.74 531.56L708.93 530.82L709.12 530.07L709.29 529.33L709.46 528.60L709.61 527.84L709.75 527.06L709.88 526.27L710.01 525.48L710.13 524.72L710.24 523.98L710.35 523.29L710.45 522.66L710.54 522.06L710.63 521.50L710.70 520.97L710.77 520.48L710.84 520.01L710.91 519.56L710.98 519.12L711.05 518.69L711.12 518.26L711.20 517.84L711.27 517.45L711.34 517.07L711.41 516.71L711.49 516.37L711.57 516.05L711.66 515.73L711.76 515.42L711.87 515.11L711.99 514.82L712.10 514.54L712.22 514.29L712.34 514.06L712.46 513.86L712.58 513.67L712.73 513.51L712.90 513.35L713.08 513.20L713.27 513.07L713.47 512.95L713.66 512.86L713.85 512.78L714.02 512.72L714.20 512.70L714.40 512.69L714.61 512.70L714.82 512.74L715.03 512.78L715.23 512.85L715.40 512.92L715.53 512.99L715.63 513.07L715.72 513.17L715.82 513.32L715.92 513.51L716.03 513.73L716.14 513.98L716.27 514.23L716.40 514.47Z" fill="#000"/><path d="M715.00 514.36a1.99 1.99 0 1 0 3.99 0a1.99 1.99 0 1 0 -3.99 0ZM694.75 541.16a1.99 1.99 0 1 0 3.99 0a1.99 1.99 0 1 0 -3.99 0Z" fill="#000"/><path d="M703.90 519.84L713.31 519.84L713.10 521.98L703.70 521.98Z" fill="#000"/><text x="712.68" y="542.40" style="font-family:&quot;Liberation Serif&quot;,serif;font-weight:bold;font-size:20.5px" fill="#000" >cr</text>
<path d="M781.40 511.34L781.30 511.13L781.20 510.91L781.11 510.67L781.00 510.41L780.86 510.14L780.70 509.86L780.49 509.59L780.23 509.35L779.95 509.15L779.66 508.99L779.36 508.86L779.03 508.75L778.70 508.67L778.36 508.61L778.01 508.59L777.66 508.60L777.32 508.63L776.97 508.70L776.63 508.80L776.29 508.92L775.96 509.08L775.64 509.25L775.32 509.46L775.02 509.69L774.73 509.94L774.45 510.21L774.19 510.50L773.95 510.81L773.72 511.13L773.50 511.45L773.29 511.78L773.09 512.12L772.88 512.48L772.69 512.85L772.50 513.24L772.32 513.63L772.15 514.03L771.98 514.44L771.82 514.85L771.65 515.29L771.49 515.74L771.34 516.20L771.19 516.66L771.04 517.14L770.89 517.64L770.74 518.15L770.58 518.70L770.42 519.29L770.25 519.93L770.07 520.63L769.89 521.36L769.71 522.10L769.53 522.85L769.34 523.59L769.15 524.30L768.96 524.99L768.77 525.67L768.58 526.37L768.38 527.07L768.18 527.76L767.98 528.42L767.78 529.05L767.58 529.62L767.40 530.14L767.24 530.59L767.10 530.98L766.95 531.34L766.80 531.67L766.65 532.01L766.48 532.36L766.29 532.73L766.09 533.14L765.92 533.58L765.75 534.01L765.58 534.44L765.41 534.86L765.25 535.25L765.08 535.61L764.93 535.94L764.79 536.22L764.64 536.50L764.49 536.77L764.34 537.02L764.18 537.25L764.02 537.47L763.87 537.67L763.71 537.85L763.57 538.01L763.43 538.14L763.29 538.25L763.13 538.35L762.96 538.44L762.78 538.51L762.60 538.58L762.42 538.63L762.26 538.67L762.14 538.68L762.02 538.67L761.88 538.64L761.71 538.58L761.52 538.50L761.31 538.41L761.07 538.31L760.84 538.23L760.22 539.51L760.40 539.63L760.56 539.74L760.74 539.87L760.94 540.02L761.17 540.16L761.44 540.30L761.74 540.42L762.07 540.50L762.38 540.57L762.69 540.61L763.01 540.64L763.36 540.64L763.71 540.62L764.08 540.56L764.46 540.47L764.84 540.34L765.21 540.20L765.57 540.03L765.93 539.83L766.29 539.61L766.65 539.36L767.00 539.09L767.35 538.79L767.70 538.46L768.03 538.08L768.36 537.68L768.67 537.27L768.97 536.85L769.26 536.42L769.54 536.01L769.81 535.60L770.06 535.22L770.27 534.85L770.48 534.49L770.70 534.11L770.92 533.71L771.14 533.27L771.37 532.79L771.59 532.27L771.82 531.70L772.02 531.07L772.21 530.41L772.41 529.71L772.60 528.99L772.79 528.26L772.97 527.52L773.15 526.78L773.32 526.04L773.46 525.29L773.60 524.51L773.73 523.72L773.86 522.94L773.98 522.18L774.09 521.44L774.20 520.76L774.30 520.12L774.39 519.53L774.48 518.97L774.55 518.44L774.62 517.95L774.69 517.48L774.76 517.03L774.82 516.60L774.90 516.17L774.97 515.74L775.04 515.32L775.12 514.93L775.19 514.55L775.26 514.20L775.33 513.86L775.41 513.53L775.50 513.22L775.61 512.90L775.72 512.60L775.83 512.31L775.95 512.03L776.06 511.78L776.18 511.55L776.30 511.35L776.42 511.17L776.57 511.00L776.74 510.85L776.92 510.70L777.11 510.57L777.31 510.45L777.50 510.35L777.69 510.27L777.86 510.22L778.04 510.19L778.23 510.19L778.44 510.20L778.66 510.23L778.87 510.28L779.06 510.34L779.24 510.42L779.37 510.49L779.46 510.56L779.55 510.67L779.65 510.82L779.75 511.01L779.86 511.23L779.97 511.47L780.10 511.72L780.24 511.96Z" fill="#ff00ff"/><path d="M778.83 511.85a1.99 1.99 0 1 0 3.98 0a1.99 1.99 0 1 0 -3.98 0ZM758.65 538.56a1.99 1.99 0 1 0 3.98 0a1.99 1.99 0 1 0 -3.98 0Z" fill="#ff00ff"/><path d="M767.77 517.31L777.15 517.31L776.95 519.45L767.57 519.45Z" fill="#ff00ff"/><text x="776.47" y="539.80" style="font-family:&quot;Liberation Serif&quot;,serif;font-weight:bold;font-size:21px" fill="#ff00ff" >co</text>
<path d="M847.86 474.12L847.76 473.91L847.66 473.70L847.56 473.46L847.45 473.20L847.32 472.93L847.16 472.66L846.95 472.39L846.70 472.15L846.42 471.95L846.13 471.79L845.82 471.66L845.50 471.55L845.17 471.47L844.83 471.41L844.49 471.39L844.14 471.40L843.80 471.44L843.46 471.50L843.12 471.60L842.78 471.73L842.45 471.88L842.13 472.05L841.82 472.25L841.52 472.48L841.22 472.73L840.95 473.00L840.69 473.29L840.45 473.60L840.22 473.91L840.01 474.23L839.80 474.56L839.60 474.90L839.39 475.26L839.20 475.63L839.01 476.01L838.84 476.40L838.67 476.80L838.50 477.20L838.34 477.62L838.17 478.05L838.01 478.50L837.86 478.95L837.71 479.42L837.56 479.89L837.41 480.38L837.26 480.90L837.11 481.44L836.94 482.02L836.77 482.67L836.60 483.36L836.42 484.08L836.24 484.82L836.06 485.56L835.87 486.30L835.68 487.01L835.49 487.69L835.31 488.37L835.12 489.06L834.92 489.76L834.72 490.44L834.52 491.10L834.32 491.72L834.13 492.29L833.94 492.80L833.79 493.25L833.64 493.64L833.50 494.00L833.35 494.33L833.20 494.66L833.03 495.01L832.84 495.38L832.65 495.78L832.48 496.22L832.31 496.65L832.14 497.08L831.97 497.49L831.80 497.88L831.64 498.24L831.49 498.57L831.35 498.85L831.21 499.12L831.06 499.39L830.90 499.64L830.75 499.87L830.59 500.09L830.44 500.29L830.28 500.47L830.14 500.63L830.00 500.75L829.86 500.86L829.70 500.96L829.53 501.05L829.36 501.12L829.18 501.19L829.00 501.24L828.84 501.28L828.72 501.29L828.60 501.28L828.46 501.25L828.29 501.19L828.10 501.11L827.89 501.02L827.66 500.92L827.43 500.84L826.81 502.12L826.99 502.23L827.15 502.35L827.32 502.48L827.53 502.62L827.75 502.76L828.02 502.90L828.32 503.02L828.65 503.10L828.96 503.16L829.26 503.21L829.59 503.24L829.93 503.24L830.28 503.22L830.65 503.16L831.02 503.07L831.40 502.94L831.76 502.80L832.12 502.63L832.48 502.43L832.84 502.21L833.20 501.97L833.55 501.69L833.89 501.40L834.24 501.07L834.58 500.70L834.90 500.30L835.21 499.89L835.51 499.47L835.79 499.05L836.07 498.64L836.34 498.24L836.59 497.86L836.80 497.49L837.01 497.13L837.22 496.75L837.44 496.35L837.66 495.92L837.89 495.44L838.11 494.92L838.33 494.36L838.53 493.73L838.73 493.07L838.92 492.38L839.11 491.67L839.30 490.94L839.48 490.20L839.65 489.46L839.82 488.74L839.97 487.98L840.11 487.21L840.24 486.43L840.36 485.65L840.48 484.89L840.60 484.16L840.70 483.48L840.80 482.85L840.89 482.26L840.98 481.70L841.05 481.18L841.12 480.69L841.19 480.23L841.25 479.78L841.32 479.35L841.40 478.92L841.47 478.50L841.54 478.08L841.61 477.69L841.68 477.32L841.75 476.96L841.83 476.63L841.91 476.31L842.00 475.99L842.10 475.68L842.21 475.37L842.32 475.08L842.44 474.81L842.55 474.57L842.67 474.34L842.79 474.14L842.91 473.95L843.06 473.79L843.23 473.63L843.41 473.49L843.60 473.36L843.79 473.24L843.98 473.14L844.17 473.07L844.34 473.01L844.51 472.99L844.71 472.98L844.92 472.99L845.13 473.02L845.34 473.07L845.53 473.13L845.71 473.21L845.84 473.28L845.93 473.35L846.02 473.46L846.12 473.60L846.22 473.79L846.33 474.01L846.44 474.25L846.57 474.51L846.70 474.74Z" fill="#0b55b8"/><path d="M845.31 474.64a1.98 1.98 0 1 0 3.95 0a1.98 1.98 0 1 0 -3.95 0ZM825.25 501.18a1.98 1.98 0 1 0 3.95 0a1.98 1.98 0 1 0 -3.95 0Z" fill="#0b55b8"/><path d="M834.31 480.06L843.63 480.06L843.43 482.18L834.11 482.18Z" fill="#0b55b8"/><text x="843.06" y="503.00" style="font-family:&quot;Liberation Serif&quot;,serif;font-weight:bold;font-size:21px" fill="#0b55b8" >co</text>
<path d="M914.00 463.04L913.90 462.83L913.80 462.61L913.71 462.37L913.60 462.11L913.46 461.84L913.30 461.56L913.09 461.29L912.83 461.05L912.55 460.85L912.26 460.69L911.96 460.56L911.63 460.45L911.30 460.37L910.96 460.31L910.61 460.29L910.26 460.30L909.92 460.33L909.57 460.40L909.23 460.50L908.89 460.62L908.56 460.78L908.24 460.95L907.92 461.16L907.62 461.39L907.33 461.64L907.05 461.91L906.79 462.20L906.55 462.51L906.32 462.83L906.10 463.15L905.89 463.48L905.69 463.82L905.48 464.18L905.29 464.55L905.10 464.94L904.92 465.33L904.75 465.73L904.58 466.14L904.42 466.55L904.25 466.99L904.09 467.44L903.94 467.90L903.79 468.36L903.64 468.84L903.49 469.34L903.34 469.85L903.18 470.40L903.02 470.99L902.85 471.63L902.67 472.33L902.49 473.06L902.31 473.80L902.13 474.55L901.94 475.29L901.75 476.00L901.56 476.69L901.37 477.37L901.18 478.07L900.98 478.77L900.78 479.46L900.58 480.12L900.38 480.75L900.18 481.32L900.00 481.84L899.84 482.29L899.70 482.68L899.55 483.04L899.40 483.37L899.25 483.71L899.08 484.06L898.89 484.43L898.69 484.84L898.52 485.28L898.35 485.71L898.18 486.14L898.01 486.56L897.85 486.95L897.68 487.31L897.53 487.64L897.39 487.92L897.24 488.20L897.09 488.47L896.94 488.72L896.78 488.95L896.62 489.17L896.47 489.37L896.31 489.55L896.17 489.71L896.03 489.84L895.89 489.95L895.73 490.05L895.56 490.14L895.38 490.21L895.20 490.28L895.02 490.33L894.86 490.37L894.74 490.38L894.62 490.37L894.48 490.34L894.31 490.28L894.12 490.20L893.91 490.11L893.67 490.01L893.44 489.93L892.82 491.21L893.00 491.33L893.16 491.44L893.34 491.57L893.54 491.72L893.77 491.86L894.04 492.00L894.34 492.12L894.67 492.20L894.98 492.27L895.29 492.31L895.61 492.34L895.96 492.34L896.31 492.32L896.68 492.26L897.06 492.17L897.44 492.04L897.81 491.90L898.17 491.73L898.53 491.53L898.89 491.31L899.25 491.06L899.60 490.79L899.95 490.49L900.30 490.16L900.63 489.78L900.96 489.38L901.27 488.97L901.57 488.55L901.86 488.12L902.14 487.71L902.41 487.30L902.66 486.92L902.87 486.55L903.08 486.19L903.30 485.81L903.52 485.41L903.74 484.97L903.97 484.49L904.19 483.97L904.42 483.40L904.62 482.77L904.81 482.11L905.01 481.41L905.20 480.69L905.39 479.96L905.57 479.22L905.75 478.48L905.92 477.74L906.06 476.99L906.20 476.21L906.33 475.42L906.46 474.64L906.58 473.88L906.69 473.14L906.80 472.46L906.90 471.82L906.99 471.23L907.08 470.67L907.15 470.14L907.22 469.65L907.29 469.18L907.36 468.73L907.42 468.30L907.50 467.87L907.57 467.44L907.64 467.02L907.72 466.63L907.79 466.25L907.86 465.90L907.93 465.56L908.01 465.23L908.10 464.92L908.21 464.60L908.32 464.30L908.43 464.01L908.55 463.73L908.66 463.48L908.78 463.25L908.90 463.05L909.02 462.87L909.17 462.70L909.34 462.55L909.52 462.40L909.71 462.27L909.91 462.15L910.10 462.05L910.29 461.97L910.46 461.92L910.64 461.89L910.83 461.89L911.04 461.90L911.26 461.93L911.47 461.98L911.66 462.04L911.84 462.12L911.97 462.19L912.06 462.26L912.15 462.37L912.25 462.52L912.35 462.71L912.46 462.93L912.57 463.17L912.70 463.42L912.84 463.66Z" fill="#00b000"/><path d="M911.43 463.55a1.99 1.99 0 1 0 3.98 0a1.99 1.99 0 1 0 -3.98 0ZM891.25 490.26a1.99 1.99 0 1 0 3.98 0a1.99 1.99 0 1 0 -3.98 0Z" fill="#00b000"/><path d="M900.37 469.01L909.75 469.01L909.55 471.15L900.17 471.15Z" fill="#00b000"/><text x="909.06" y="491.80" style="font-family:&quot;Liberation Serif&quot;,serif;font-weight:bold;font-size:21px" fill="#00b000" >co</text>
</svg></body></html>
